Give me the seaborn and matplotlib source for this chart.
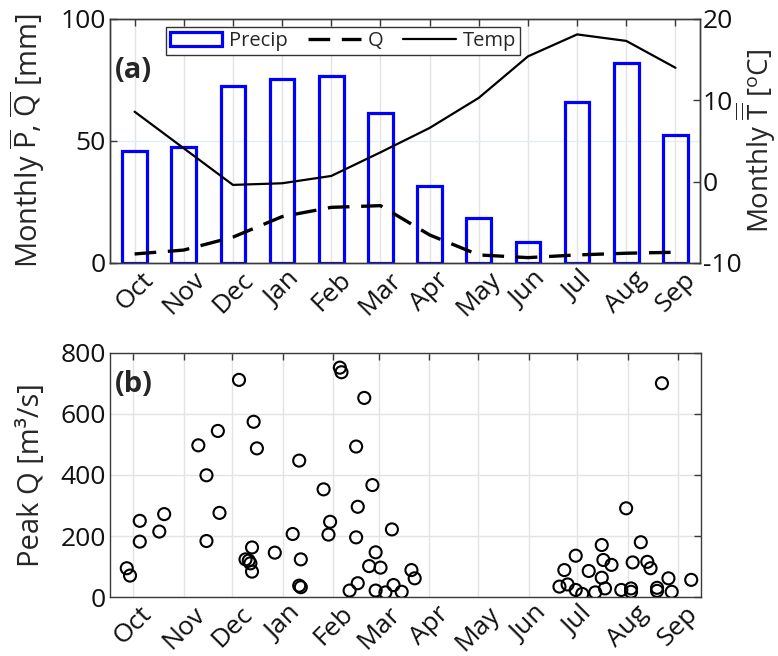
import numpy as np
import pandas as pd
import matplotlib
matplotlib.use("Agg")
import matplotlib.pyplot as plt
import seaborn as sns
from matplotlib.lines import Line2D
from matplotlib.patches import Patch

# ---------------- data ----------------
months = ['Oct', 'Nov', 'Dec', 'Jan', 'Feb', 'Mar', 'Apr', 'May', 'Jun', 'Jul', 'Aug', 'Sep']
precip_mm = [46, 47.5, 72.5, 75.5, 76.5, 61.5, 31.5, 18.5, 8.5, 66, 82, 52.5]
q_mm = [3.7, 5.3, 10.6, 19.0, 22.8, 23.5, 11.5, 3.3, 2.2, 3.3, 4.0, 4.4]
temp_c = [8.6, 4.1, -0.4, -0.2, 0.7, 3.6, 6.6, 10.3, 15.4, 18.1, 17.3, 14.0]

# day of water year (0 = 1 Oct) of month starts
month_start_day = [0, 31, 61, 92, 123, 151, 182, 212, 243, 273, 304, 335]

# peak flow events: day of water year and peak discharge
peak_day = [-4, -2, 4, 4, 16, 19,
            40, 45, 45, 52, 53,
            65, 74, 76, 73, 69, 71, 72, 73, 87,
            98, 102, 103, 102, 103,
            117, 121, 120, 127, 128, 142, 137, 138, 137, 133, 138,
            147, 159, 149, 145, 152, 149, 155, 160, 165, 171, 173,
            262, 265, 267, 272, 272, 276, 280, 284, 288, 288, 289, 290, 294,
            300, 303, 306, 306, 307, 312, 316, 318, 322, 322, 325, 329, 331, 343]
peak_q = [95, 71, 250, 182, 215, 272,
          497, 399, 184, 544, 276,
          711, 574, 487, 163, 124, 120, 111, 84, 146,
          207, 447, 124, 38, 33,
          353, 247, 205, 751, 736, 652, 493, 296, 196, 22, 46,
          367, 222, 147, 102, 97, 22, 16, 40, 18, 89, 62,
          35, 89, 42, 136, 24, 11, 86, 16, 171, 64, 122, 29, 106,
          24, 291, 29, 18, 114, 180, 116, 95, 31, 21, 700, 62, 18, 57]

# ---------------- style ----------------
sns.set_theme(style="white")
plt.rcParams['font.family'] = ['Open Sans', 'DejaVu Sans']
plt.rcParams['mathtext.fontset'] = 'custom'
plt.rcParams['mathtext.rm'] = 'Open Sans'
plt.rcParams['mathtext.it'] = 'Open Sans'
plt.rcParams['mathtext.bf'] = 'Open Sans:bold'
plt.rcParams['axes.unicode_minus'] = False

TICK_FS = 19
LABEL_FS = 21
SPINE = '#3a3a3a'
GRID = '#e3e3e3'

fig = plt.figure(figsize=(7.78, 6.56), dpi=100)
ax1 = fig.add_axes([0.1414, 0.5991, 0.7584, 0.372])
ax2 = fig.add_axes([0.1414, 0.0895, 0.7596, 0.3729])

dfm = pd.DataFrame({'month': months, 'idx': np.arange(len(months)),
                    'precip': precip_mm, 'q': q_mm, 'temp': temp_c})

# ---- panel (a) ----
for x in dfm['idx']:
    ax1.axvline(x, color=GRID, lw=1.0, zorder=0)
ax1.axhline(50, color='#e2edf6', lw=1.0, zorder=0)

sns.barplot(data=dfm, x='month', y='precip', order=months, ax=ax1, fill=False,
            width=0.5, edgecolor='#0000ff', linewidth=2.3, errorbar=None, zorder=2)
sns.lineplot(data=dfm, x='idx', y='q', ax=ax1, color='black', lw=2.4,
             dashes=False, zorder=3)
ax1.lines[-1].set_dashes([6.5, 3.5])
ax1.set_xlim(-0.5, 11.5)
ax1.set_ylim(0, 100)
ax1.set_yticks([0, 50, 100])
ax1.set_xticks(range(12))
ax1.set_xticklabels(months, rotation=45, ha='center', fontsize=TICK_FS)
ax1.set_xlabel('')
ax1.set_ylabel(r'Monthly $\overline{\mathrm{P}}$, $\overline{\mathrm{Q}}$ [mm]', fontsize=LABEL_FS)
ax1.yaxis.set_label_coords(-0.107, 0.5)

ax1t = ax1.twinx()
ax1t.set_position(ax1.get_position())
sns.lineplot(data=dfm, x='idx', y='temp', ax=ax1t, color='black', lw=1.6, zorder=3)
ax1t.set_ylim(-10, 20)
ax1t.set_yticks([-10, 0, 10, 20])
ax1t.set_xlim(-0.5, 11.5)
ax1t.set_ylabel(r'Monthly $\overline{\overline{\mathrm{T}}}$ [$^{\mathrm{o}}$C]',
                fontsize=20)
ax1t.yaxis.set_label_coords(1.057, 0.5)
ax1t.set_xlabel('')

ax1.text(0.008, 0.79, '(a)', transform=ax1.transAxes, fontsize=LABEL_FS,
         fontweight='bold', ha='left', va='center', zorder=5)

handles = [Patch(facecolor='white', edgecolor='#0000ff', linewidth=2.3),
           Line2D([], [], color='black', lw=2.4, dashes=[6.5, 3.5]),
           Line2D([], [], color='black', lw=1.6)]
leg = ax1t.legend(handles, ['Precip', 'Q', 'Temp'], loc='upper center',
                  bbox_to_anchor=(0.395, 0.967), ncol=3, fontsize=14.5,
                  frameon=True, fancybox=False, framealpha=1, edgecolor='#333333',
                  handlelength=2.6, handleheight=0.75, columnspacing=1.0,
                  handletextpad=0.35, borderpad=0.2, borderaxespad=0.0)
leg.get_frame().set_linewidth(1.0)

# ---- panel (b) ----
dfp = pd.DataFrame({'day': peak_day, 'peak': peak_q})
sns.scatterplot(data=dfp, x='day', y='peak', ax=ax2, marker='o', s=75,
                facecolors='none', edgecolor='black', linewidth=1.5, zorder=3)
ax2.set_xlim(-14.3, 349)
ax2.set_ylim(0, 800)
ax2.set_yticks([0, 200, 400, 600, 800])
ax2.set_xticks(month_start_day)
ax2.set_xticklabels(months, rotation=45, ha='center', fontsize=TICK_FS)
ax2.grid(True, color=GRID, lw=1.0)
ax2.set_axisbelow(True)
ax2.set_xlabel('')
ax2.set_ylabel('Peak Q [m³/s]', fontsize=LABEL_FS)
ax2.yaxis.set_label_coords(-0.108, 0.5)
ax2.text(0.008, 0.868, '(b)', transform=ax2.transAxes, fontsize=LABEL_FS,
         fontweight='bold', ha='left', va='center', zorder=5)

for ax in (ax1, ax1t, ax2):
    for sp in ax.spines.values():
        sp.set_color(SPINE)
        sp.set_linewidth(1.0)
    ax.tick_params(direction='in', length=5, width=1.0, color=SPINE,
                   labelsize=TICK_FS, labelcolor='#111111', pad=3)
ax1.tick_params(top=True, right=False)
ax1t.tick_params(right=True, left=False, top=False, bottom=False)
ax1t.tick_params(axis='y', pad=2)
ax2.tick_params(top=True, right=True)

fig.savefig('out.png', dpi=100)
